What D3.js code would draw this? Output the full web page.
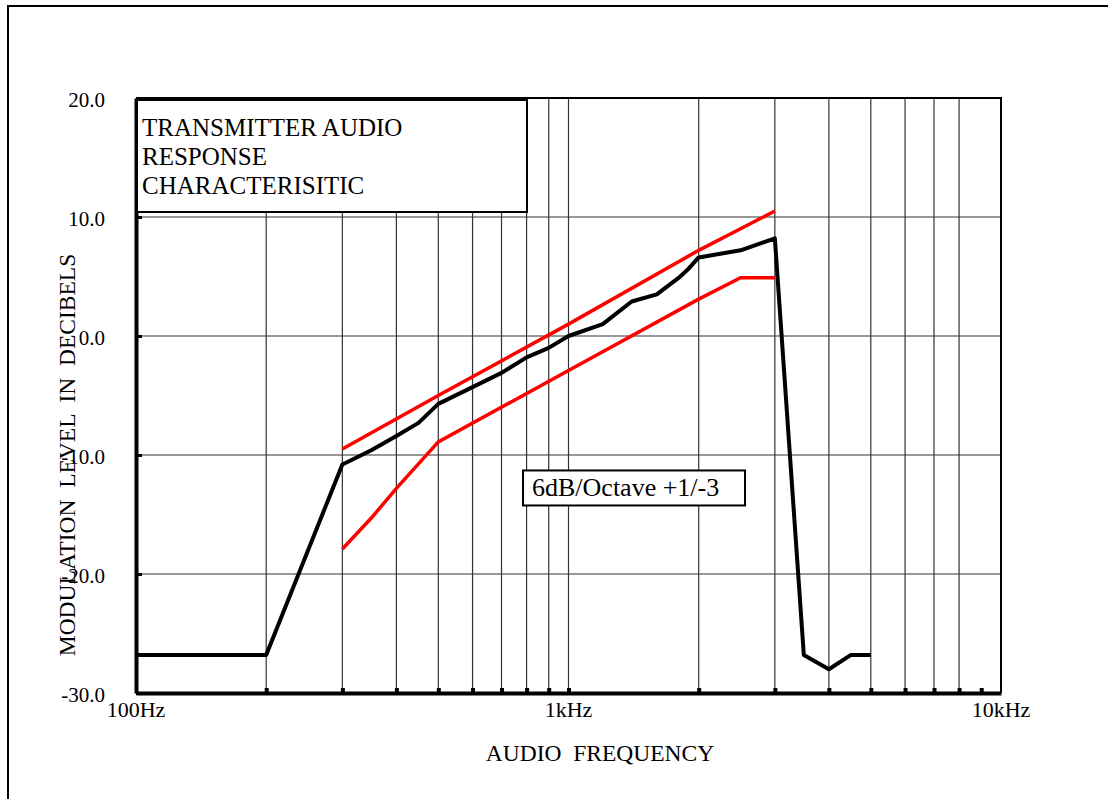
<!DOCTYPE html>
<html>
<head>
<meta charset="utf-8">
<script src="https://cdn.jsdelivr.net/npm/d3@7"></script>
<style>
  body { margin: 0; background: #fff; }
  svg text { font-family: "Liberation Serif", "Times New Roman", "DejaVu Serif", serif; fill: #000; white-space: pre; }
</style>
</head>
<body>
<svg width="1108" height="799"></svg>
<script>
// measured response (black) and the +1/-3 limit lines (red)
var measuredFreq = [100, 200, 300, 350, 400, 450, 500, 600, 700, 800, 900, 1000, 1200, 1400, 1600, 1800, 1900, 2000, 2500, 3000, 3500, 4000, 4500, 5000];
var measuredDb = [-26.8, -26.8, -10.8, -9.6, -8.4, -7.3, -5.7, -4.3, -3.1, -1.8, -1.0, 0.0, 1.0, 2.9, 3.5, 4.9, 5.7, 6.6, 7.2, 8.2, -26.8, -28.0, -26.8, -26.8];
var upperFreq = [300, 500, 1000, 2000, 3000];
var upperDb = [-9.5, -5.0, 1.0, 7.2, 10.5];
var lowerFreq = [300, 350, 400, 500, 1000, 2000, 2500, 3000];
var lowerDb = [-17.9, -15.3, -12.8, -8.9, -2.9, 3.1, 4.9, 4.9];

var yTicks = [20, 10, 0, -10, -20, -30];
var xTickFreq = [200, 300, 400, 500, 600, 700, 800, 900, 1000, 2000, 3000, 4000, 5000, 6000, 7000, 8000, 9000];
var xGridFreq = [200, 300, 400, 500, 600, 700, 800, 900, 1000, 2000, 3000, 4000, 5000, 6000, 7000, 8000];
var xLabelFreq = [100, 1000, 10000];
var xLabels = ["100Hz", "1kHz", "10kHz"];

var svg = d3.select("svg"),
    margin = {top: 98, left: 136, right: 107, bottom: 106},
    width = +svg.attr("width") - margin.left - margin.right,
    height = +svg.attr("height") - margin.top - margin.bottom;

var serif = "'Liberation Serif', 'Times New Roman', 'DejaVu Serif', serif";

// outer frame (runs off the bottom/right of the picture)
svg.append("rect")
    .attr("x", 8).attr("y", 6)
    .attr("width", 1300).attr("height", 1000)
    .attr("fill", "none").attr("stroke", "#000").attr("stroke-width", 2);

var g = svg.append("g").attr("transform", "translate(" + margin.left + "," + margin.top + ")");

var x = d3.scaleLog().domain([100, 10000]).range([0, width]);
var y = d3.scaleLinear().domain([-30, 20]).range([height, 0]);

// grid
g.selectAll(".vgrid").data(xGridFreq).enter().append("line")
    .attr("x1", function (d) { return x(d); }).attr("x2", function (d) { return x(d); })
    .attr("y1", 0).attr("y2", height)
    .attr("stroke", "#333").attr("stroke-width", 1.2);

g.selectAll(".hgrid").data(yTicks.slice(1, 5)).enter().append("line")
    .attr("x1", 0).attr("x2", width)
    .attr("y1", function (d) { return y(d); }).attr("y2", function (d) { return y(d); })
    .attr("stroke", "#333").attr("stroke-width", 1.2);

// top and right border
g.append("path")
    .attr("d", "M0,0H" + width + "V" + height)
    .attr("fill", "none").attr("stroke", "#000").attr("stroke-width", 2);

// bottom axis
var xAxis = g.append("g")
    .attr("transform", "translate(0," + height + ")")
    .call(d3.axisBottom(x).tickValues(xTickFreq).tickSize(0).tickFormat(""));
xAxis.select(".domain").attr("stroke", "#000").attr("stroke-width", 4);
xAxis.selectAll(".tick").append("rect")
    .attr("x", -2).attr("y", -5).attr("width", 4).attr("height", 5).attr("fill", "#000");

g.selectAll(".xlab").data(xLabelFreq).enter().append("text")
    .attr("x", function (d) { return x(d); })
    .attr("y", height + 24)
    .attr("text-anchor", "middle")
    .attr("font-family", serif)
    .attr("font-size", 22)
    .text(function (d, i) { return xLabels[i]; });

// left axis
var yAxis = g.append("g")
    .call(d3.axisLeft(y).tickValues(yTicks).tickSize(0).tickFormat(""));
yAxis.select(".domain").attr("stroke", "#000").attr("stroke-width", 4);
yAxis.selectAll(".tick").append("rect")
    .attr("x", 0).attr("y", -1.5).attr("width", 6).attr("height", 3).attr("fill", "#000");

g.selectAll(".ylab").data(yTicks).enter().append("text")
    .attr("x", -31)
    .attr("y", function (d) { return y(d); })
    .attr("dy", "0.42em")
    .attr("text-anchor", "end")
    .attr("font-family", serif)
    .attr("font-size", 21)
    .text(function (d) { return d3.format(".1f")(d).replace("\u2212", "-"); });

// axis titles
svg.append("text")
    .attr("transform", "translate(75,455) rotate(-90)")
    .attr("text-anchor", "middle")
    .attr("font-family", serif)
    .attr("font-size", 23.5)
    .text("MODULATION  LEVEL  IN  DECIBELS");

svg.append("text")
    .attr("x", 600).attr("y", 761)
    .attr("text-anchor", "middle")
    .attr("font-family", serif)
    .attr("font-size", 23.5)
    .text("AUDIO  FREQUENCY");

// series
var line = d3.line()
    .x(function (d) { return x(d[0]); })
    .y(function (d) { return y(d[1]); });

g.append("path")
    .datum(d3.zip(upperFreq, upperDb))
    .attr("d", line).attr("fill", "none")
    .attr("stroke", "#f00").attr("stroke-width", 3.5);

g.append("path")
    .datum(d3.zip(lowerFreq, lowerDb))
    .attr("d", line).attr("fill", "none")
    .attr("stroke", "#f00").attr("stroke-width", 3.5);

g.append("path")
    .datum(d3.zip(measuredFreq, measuredDb))
    .attr("d", line).attr("fill", "none")
    .attr("stroke", "#000").attr("stroke-width", 4)
    .attr("stroke-linejoin", "round");

// title box
g.append("rect")
    .attr("x", 1).attr("y", 2).attr("width", 390).attr("height", 112)
    .attr("fill", "#fff").attr("stroke", "#000").attr("stroke-width", 2);
var titleLines = ["TRANSMITTER AUDIO", "RESPONSE", "CHARACTERISITIC"];
g.selectAll(".title").data(titleLines).enter().append("text")
    .attr("x", 6)
    .attr("y", function (d, i) { return 38 + i * 29; })
    .attr("font-family", serif)
    .attr("font-size", 25)
    .text(function (d) { return d; });

// slope note
g.append("rect")
    .attr("x", x(785)).attr("y", y(-11.3))
    .attr("width", 222).attr("height", 35)
    .attr("fill", "#fff").attr("stroke", "#000").attr("stroke-width", 2);
g.append("text")
    .attr("x", x(785) + 9).attr("y", y(-11.3) + 26)
    .attr("font-family", serif)
    .attr("font-size", 26)
    .text("6dB/Octave +1/-3");
</script>
</body>
</html>
